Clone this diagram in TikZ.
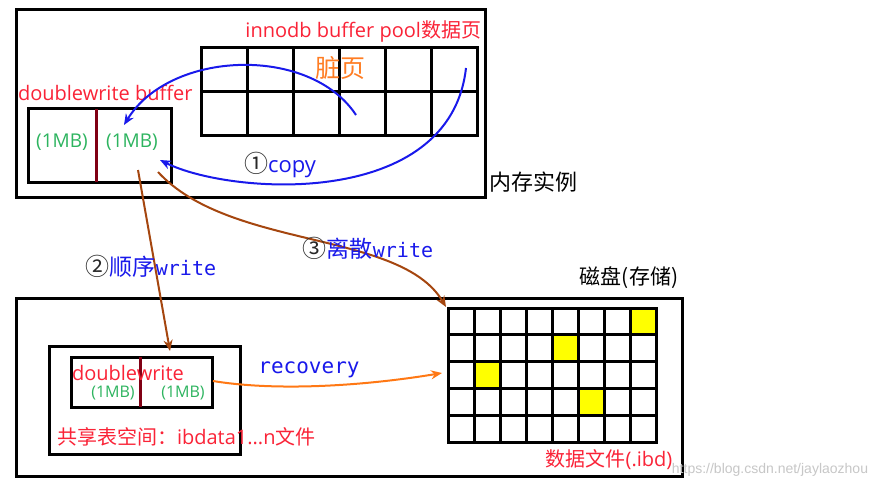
\documentclass[tikz,border=0pt]{standalone}
\usepackage{fontspec}
\setmainfont{Open Sans}
\newfontfamily\cjk{Noto Sans CJK SC}
\newfontfamily\monofnt{DejaVu Sans Mono}
\newfontfamily\wmfnt{Liberation Sans}
\usetikzlibrary{arrows.meta}
\definecolor{tred}{RGB}{250,35,55}
\definecolor{tgreen}{RGB}{45,180,95}
\definecolor{torange}{RGB}{255,125,35}
\definecolor{tblue}{RGB}{25,25,235}
\definecolor{abrown}{RGB}{165,70,15}
\definecolor{aorange}{RGB}{255,120,20}
\definecolor{dred}{RGB}{128,0,20}
\definecolor{tyellow}{RGB}{255,255,0}
\definecolor{circgray}{RGB}{40,40,40}
\tikzset{
  frame/.style={draw=black,line width=3pt},
  gridline/.style={draw=black,line width=3pt},
  lbl/.style={inner sep=0pt,outer sep=0pt},
  bluearrow/.style={draw=tblue,line width=2pt,-{Stealth[length=11pt,width=9pt]}},
  brownarrow/.style={draw=abrown,line width=2pt,-{Stealth[length=11pt,width=9pt]}},
  orangearrow/.style={draw=aorange,line width=2pt,-{Stealth[length=11pt,width=9pt]}},
  divider/.style={draw=dred,line width=3pt},
}
\newcommand{\circnum}[1]{{\cjk\fontsize{24}{26}\selectfont\textcolor{circgray}{#1}}}
\begin{document}
\begin{tikzpicture}[x=1pt,y=-1pt]
\useasboundingbox (0,0) rectangle (889,492);
\fill[white] (0,0) rectangle (889,492);

% ---- memory instance box
\draw[frame] (16,10) rectangle (485,197);
\node[lbl,anchor=west] (mem) at (489,182) {\cjk\fontsize{22}{24}\selectfont 内存实例};

% buffer pool grid
\draw[gridline] (201,48) rectangle (477,136);
\foreach \x in {247,293,339,385,431} \draw[gridline] (\x,48) -- (\x,136);
\draw[gridline] (201,92) -- (477,92);
\node[lbl,anchor=east,text=tred] (bp) at (481,31) {\fontsize{20}{22}\selectfont innodb buffer pool{\cjk 数据页}};
\node[lbl,text=torange] (dirty) at (340,68) {\cjk\fontsize{25}{27}\selectfont 脏页};
\coordinate (bpA) at (356,115);
\coordinate (bpB) at (466,68);

% doublewrite buffer (memory)
\node[lbl,anchor=west,text=tred] (dwbl) at (18,93) {\fontsize{20}{22}\selectfont doublewrite buffer};
\node[frame,lbl,minimum width=143pt,minimum height=73pt,anchor=north west] (dwb) at (28,109) {};
\draw[divider] (96,109) -- (96,182);
\node[lbl,text=tgreen] (mbA) at (62,142) {\fontsize{19}{21}\selectfont (1MB)};
\node[lbl,text=tgreen] (mbB) at (132,142) {\fontsize{19}{21}\selectfont (1MB)};
\coordinate (inA) at (124,125);
\coordinate (inB) at (160,160);
\coordinate (outA) at (138,170);
\coordinate (outB) at (158,172);

% blue copy arrows
\draw[bluearrow] (bpA) .. controls (310,45) and (170,50) .. (inA);
\draw[bluearrow] (bpB) .. controls (450,210) and (230,195) .. (inB);
\node[lbl] (copy) at (280,165) {\circnum{①}\textcolor{tblue}{\fontsize{22}{24}\selectfont copy}};

% ---- disk box
\draw[frame] (16,298) rectangle (682,476);
\node[lbl] (disk) at (629,278) {\cjk\fontsize{21}{23}\selectfont 磁盘(存储)};

% shared tablespace
\node[frame,lbl,minimum width=191pt,minimum height=108pt,anchor=north west] (shared) at (49,346) {};
\node[lbl,anchor=west,text=tred] (sharedl) at (57,437) {\fontsize{20}{22}\selectfont{\cjk 共享表空间：}ibdata1...n{\cjk 文件}};
\node[frame,lbl,minimum width=141pt,minimum height=50pt,anchor=north west] (dw2) at (71,357) {};
\draw[divider] (140,357) -- (140,407);
\node[lbl,anchor=west,text=tred] (dw2l) at (72,373) {\fontsize{20}{22}\selectfont doublewrite};
\node[lbl,text=tgreen] (mbC) at (113,393) {\fontsize{16}{18}\selectfont (1MB)};
\node[lbl,text=tgreen] (mbD) at (183,393) {\fontsize{16}{18}\selectfont (1MB)};
\coordinate (dwIn) at (170,351);
\coordinate (dwOut) at (213,381);

% data file grid
\foreach \r/\c in {0/7,1/4,2/1,3/5}
  \fill[tyellow] (448+26*\c,308+26.8*\r) rectangle (474+26*\c,334.8+26.8*\r);
\draw[gridline] (448,308) rectangle (656,442);
\foreach \i in {1,...,7} \draw[gridline] (448+26*\i,308) -- (448+26*\i,442);
\foreach \j in {1,...,4} \draw[gridline] (448,308+26.8*\j) -- (656,308+26.8*\j);
\node[lbl,text=tred] (ibd) at (609,460) {\fontsize{20}{22}\selectfont{\cjk 数据文件}(.ibd)};
\coordinate (gridTL) at (446,307);
\coordinate (gridL) at (442,373);

% brown write arrows
\draw[brownarrow] (outA) -- (dwIn);
\draw[brownarrow] (outB) .. controls (230,250) and (400,230) .. (gridTL);
\node[lbl] (seq) at (151,266) {\circnum{②}\textcolor{tblue}{{\cjk\fontsize{23}{25}\selectfont 顺序}{\monofnt\fontsize{20}{22}\selectfont write}}};
\node[lbl] (rand) at (368,248) {\circnum{③}\textcolor{tblue}{{\cjk\fontsize{23}{25}\selectfont 离散}{\monofnt\fontsize{20}{22}\selectfont write}}};

% recovery
\draw[orangearrow] (dwOut) .. controls (280,392) and (370,385) .. (gridL);
\node[lbl,text=tblue] (rec) at (309,370) {\fontsize{21}{23}\selectfont\monofnt recovery};

% watermark
\node[lbl,text=black!22] (wm) at (770,470) {\wmfnt\fontsize{14}{16}\selectfont https://blog.csdn.net/jaylaozhou};
\end{tikzpicture}
\end{document}
